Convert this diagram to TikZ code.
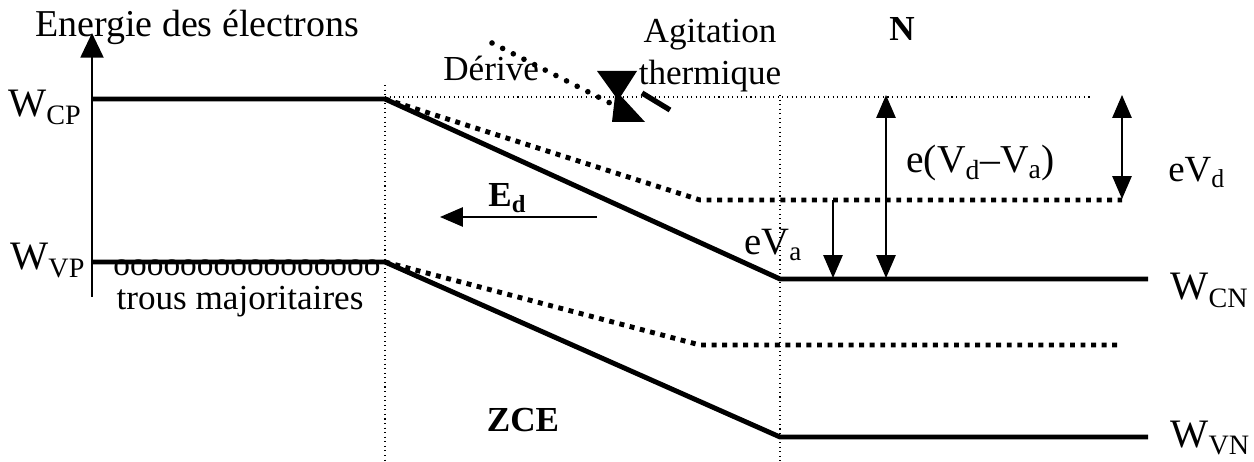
\documentclass[tikz,border=0pt]{standalone}
\usepackage{fontspec}
\setmainfont{Liberation Serif}
\usetikzlibrary{arrows.meta}

% lowered index for the band level names
\newcommand{\levsub}[1]{\raisebox{-4pt}{\fontsize{16}{16}\selectfont #1}}

\begin{document}
\begin{tikzpicture}[x=0.02cm, y=-0.02cm, font=\fontsize{20}{24}\selectfont,
    band/.style={line width=2.8pt},
    shifted/.style={line width=2.8pt, dash pattern=on 2.8pt off 3.2pt},
    guide/.style={line width=0.6pt, dotted},
    level/.style={font=\fontsize{23}{28}\selectfont, inner sep=0pt, anchor=base west},
    gap/.style={line width=0.8pt, {Triangle[width=11pt,length=13pt]}-{Triangle[width=11pt,length=13pt]}},
    tag/.style={inner sep=0pt, anchor=base west, font=\fontsize{21}{24}\selectfont}]
  \useasboundingbox (0,0) rectangle (1254,462);

  % energy axis
  \coordinate (axisbot) at (92,297);
  \coordinate (axistop) at (92,33);
  \draw[line width=1.4pt, -{Triangle[width=13pt,length=14pt]}] (axisbot) -- (axistop);
  \node[inner sep=0pt, anchor=base west, font=\fontsize{21.6}{24}\selectfont] (axislabel) at (35,37) {Energie des électrons};

  % band corners
  \coordinate (cp0) at (92,99);   \coordinate (cp1) at (385,99);
  \coordinate (cn0) at (780,279); \coordinate (cn1) at (1148,279);
  \coordinate (vp0) at (92,262);  \coordinate (vp1) at (385,262);
  \coordinate (vn0) at (780,437); \coordinate (vn1) at (1148,437);
  \coordinate (cs0) at (700,200); \coordinate (cs1) at (1122,200);
  \coordinate (vs0) at (700,345); \coordinate (vs1) at (1122,345);

  % limits of the ZCE and reference level
  \coordinate (zp0) at (385,85);  \coordinate (zp1) at (385,462);
  \coordinate (zn0) at (780,95);  \coordinate (zn1) at (780,462);
  \coordinate (ref1) at (1093,97);
  \draw[guide] (zp0) -- (zp1);
  \draw[guide] (zn0) -- (zn1);
  \draw[guide] (385,97) -- (ref1);

  % bands at equilibrium
  \draw[band] (cp0) -- (cp1) -- (cn0) -- (cn1);
  \draw[band] (vp0) -- (vp1) -- (vn0) -- (vn1);
  % bands under forward bias
  \draw[shifted] (cp1) -- (cs0) -- (cs1);
  \draw[shifted] (vp1) -- (vs0) -- (vs1);

  % level names
  \node[level] (wcp) at (8,117) {W\levsub{CP}};
  \node[level] (wvp) at (10,270) {W\levsub{VP}};
  \node[level] (wcn) at (1170,300) {W\levsub{CN}};
  \node[level] (wvn) at (1170,447) {W\levsub{VN}};

  % holes in the P side
  \node[font=\fontsize{19}{20}\selectfont, inner sep=0pt, anchor=base] (holes) at (247,276) {oooooooooooooooo};
  \node[inner sep=0pt, anchor=base] (trous) at (240,310) {trous majoritaires};

  % barrier heights
  \coordinate (d0) at (1122,95);  \coordinate (d1) at (1122,199);
  \draw[gap] (d0) -- (d1);
  \node[tag] (evd) at (1168,182) {eV\textsubscript{d}};
  \coordinate (b0) at (886,95);   \coordinate (b1) at (886,278);
  \draw[gap] (b0) -- (b1);
  \node[tag, font=\fontsize{22.5}{26}\selectfont] (evdva) at (906,173) {e(V\textsubscript{d}--V\textsubscript{a})};
  \coordinate (a0) at (833,200);  \coordinate (a1) at (833,278);
  \draw[line width=0.8pt, -{Triangle[width=11pt,length=13pt]}] (a0) -- (a1);
  \node[tag, font=\fontsize{22}{26}\selectfont] (eva) at (744,255) {eV\textsubscript{a}};

  % built-in field
  \coordinate (ed0) at (597,217); \coordinate (ed1) at (440,217);
  \draw[line width=0.8pt, -{Triangle[width=11pt,length=13pt]}] (ed0) -- (ed1);
  \node[tag, font=\fontsize{20}{24}\selectfont\bfseries] (ed) at (488,207) {E\textsubscript{d}};

  % drift versus thermal agitation
  \coordinate (dr0) at (492,43);  \coordinate (dr1) at (612,104);
  \draw[line width=3.2pt, line cap=round, dash pattern=on 0pt off 6.8pt] (dr0) -- (dr1);
  \fill (597,71) -- (637,71) -- (621,96) -- (645,122) -- (612,122) -- (615,96) -- cycle;
  \draw[line width=3pt] (642,93) -- (670,110);
  \node[tag, font=\fontsize{20}{24}\selectfont] (derive) at (443,81) {Dérive};
  \node[align=center, inner sep=0pt] (agit) at (710,56) {Agitation\\thermique};

  % region names
  \node[font=\fontsize{20}{24}\selectfont\bfseries] (zce) at (523,420) {ZCE};
  \node[font=\fontsize{20}{24}\selectfont\bfseries] (nside) at (902,29) {N};
\end{tikzpicture}
\end{document}
